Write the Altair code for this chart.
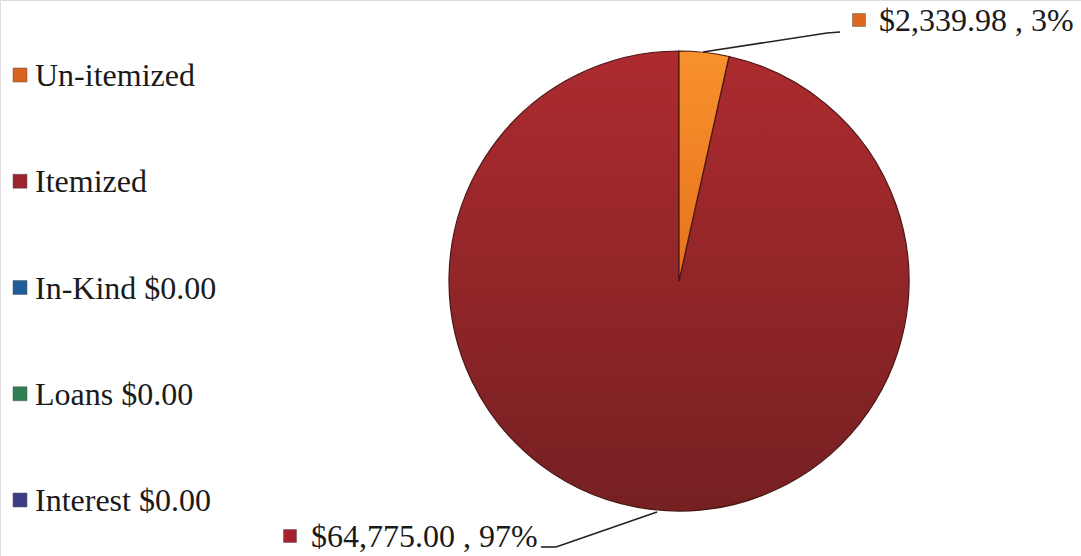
import altair as alt
import pandas as pd

# ---- data ----
categories = ["Un-itemized", "Itemized", "In-Kind", "Loans", "Interest"]
values = [2339.98, 64775.00, 0.0, 0.0, 0.0]
legend_labels = ["Un-itemized", "Itemized", "In-Kind $0.00", "Loans $0.00", "Interest $0.00"]
swatch_colors = ["#d9621f", "#9c2430", "#1f5c9a", "#2f7f52", "#3c3c86"]

df = pd.DataFrame({
    "name": categories,
    "value": values,
    "order": list(range(len(categories))),
    "legend": legend_labels,
})

W, H = 1081, 556
CX, CY, R = 679, 281, 230
FONT = "Liberation Serif"

base = (
    alt.Chart(df)
    .transform_joinaggregate(total="sum(value)")
    .transform_window(cum="sum(value)", sort=[{"field": "order"}], frame=[None, 0])
    .transform_calculate(
        a0="2*PI*(datum.cum - datum.value)/datum.total",
        a1="2*PI*datum.cum/datum.total",
        label="'$' + format(datum.value, ',.2f') + ' , ' + format(datum.value/datum.total, '.0%')",
    )
)

def slice_layer(name, grad):
    return (
        base.transform_filter(alt.datum.name == name)
        .mark_arc(outerRadius=R, fill=grad, stroke="#4a1616", strokeWidth=1.2)
        .encode(
            theta=alt.Theta("a0:Q", scale=None),
            theta2="a1:Q",
            x=alt.value(CX),
            y=alt.value(CY),
        )
    )

itemized_grad = alt.LinearGradient(
    gradient="linear",
    stops=[alt.GradientStop(color="#ad2b2f", offset=0), alt.GradientStop(color="#762022", offset=1)],
    x1=0, x2=0, y1=0, y2=1,
)
unitem_grad = alt.LinearGradient(
    gradient="linear",
    stops=[alt.GradientStop(color="#f7922c", offset=0), alt.GradientStop(color="#e8721c", offset=1)],
    x1=0, x2=0, y1=0, y2=1,
)

pie = slice_layer("Itemized", itemized_grad) + slice_layer("Un-itemized", unitem_grad)

# ---- manual legend (left) ----
ypos = alt.Y(
    "legend:N", sort=legend_labels,
    scale=alt.Scale(domain=legend_labels, range=[75, 500], padding=0),
    axis=None,
)
leg_sw = alt.Chart(df).mark_square(size=196, stroke="#555", strokeWidth=0.5, opacity=1).encode(
    x=alt.value(20),
    y=ypos,
    color=alt.Color("legend:N", scale=alt.Scale(domain=legend_labels, range=swatch_colors), legend=None),
)
leg_tx = alt.Chart(df).mark_text(
    align="left", baseline="middle", font=FONT, fontSize=32, color="#1a1a1a", dy=1
).encode(x=alt.value(35), y=ypos, text="legend:N")

# ---- data labels with leader lines ----
def data_label(name, sw_color, tx_x, tx_y, sw_x):
    t = base.transform_filter(alt.datum.name == name).mark_text(
        align="left", baseline="middle", font=FONT, fontSize=32, color="#1a1a1a"
    ).encode(x=alt.value(tx_x), y=alt.value(tx_y), text="label:N")
    s = base.transform_filter(alt.datum.name == name).mark_square(
        size=169, fill=sw_color, stroke="#555", strokeWidth=0.5, opacity=1
    ).encode(x=alt.value(sw_x), y=alt.value(tx_y - 1))
    return t + s

lbl_top = data_label("Un-itemized", "#e0681e", 879, 21, 859)
lbl_bot = data_label("Itemized", "#a8202c", 311, 537, 290)

def seg(x1, y1, x2, y2):
    return alt.Chart(df).transform_filter(alt.datum.order == 0).mark_rule(
        color="#222", strokeWidth=1.6
    ).encode(x=alt.value(x1), y=alt.value(y1), x2=alt.value(x2), y2=alt.value(y2))

leaders = (
    seg(703, 52, 827, 33) + seg(827, 33, 840, 32)
    + seg(657, 512, 556, 547) + seg(556, 547, 541, 547)
)

chart = (
    alt.layer(pie, leaders, leg_sw, leg_tx, lbl_top, lbl_bot)
    .properties(width=W, height=H, autosize=alt.AutoSizeParams(type="none"), padding=0)
    .configure_view(stroke=None)
    .configure(background="white")
)

chart.save("out.html", embed_options={"renderer": "svg", "actions": False})
